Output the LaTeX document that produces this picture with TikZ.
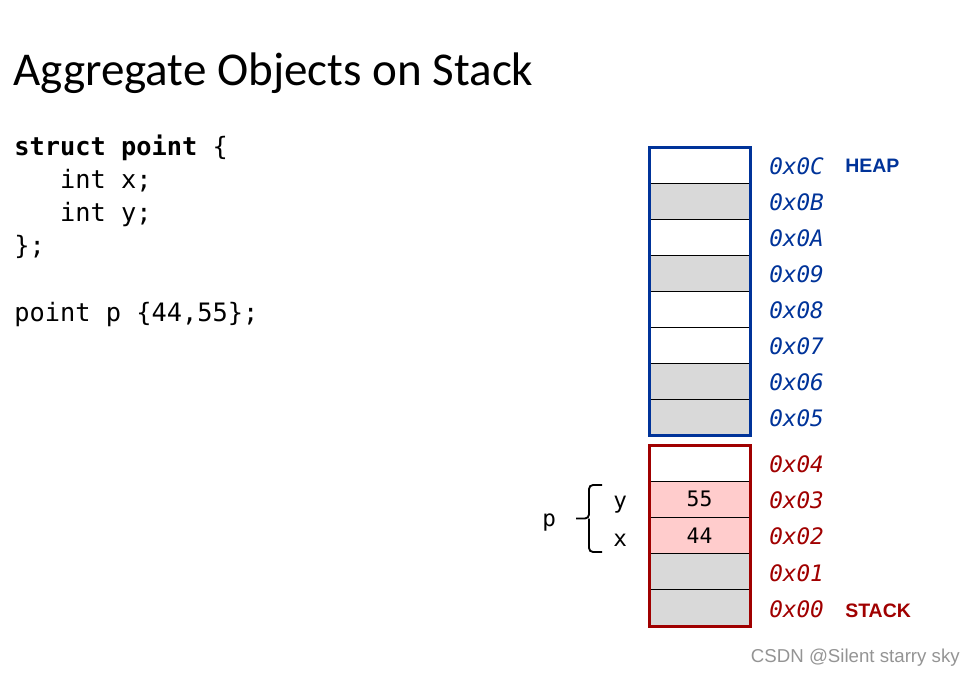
\documentclass[tikz,border=0pt]{standalone}
\usepackage{fontspec}
\setmainfont{Carlito}
\newfontfamily\codefont{DejaVu Sans Mono}
\newfontfamily\wmfont{Liberation Sans}
\definecolor{heapblue}{HTML}{003399}
\definecolor{stackred}{HTML}{A00000}
\definecolor{cellgray}{HTML}{D9D9D9}
\definecolor{cellpink}{HTML}{FFCCCC}
\tikzset{
  cell/.style={draw=black, line width=0.9pt, minimum width=75.75pt, minimum height=27.15pt,
    inner sep=0pt, outer sep=0pt, font=\codefont\fontsize{16}{19}\selectfont},
  wcell/.style={cell, fill=white},
  gcell/.style={cell, fill=cellgray},
  pcell/.style={cell, fill=cellpink},
  heapborder/.style={draw=heapblue, line width=2.25pt},
  stackborder/.style={draw=stackred, line width=2.25pt},
  codetext/.style={anchor=base west, inner sep=0pt, font=\codefont\fontsize{19}{23}\selectfont},
  addr/.style={anchor=base west, inner sep=0pt, font=\codefont\itshape\fontsize{17}{20}\selectfont},
  haddr/.style={addr, text=heapblue},
  saddr/.style={addr, text=stackred},
  region/.style={anchor=base west, inner sep=0pt, font=\wmfont\bfseries\fontsize{14.6}{17}\selectfont},
  lbl/.style={anchor=base west, inner sep=0pt, font=\codefont\fontsize{17}{20}\selectfont},
  bracestyle/.style={line width=1.4pt, rounded corners=3pt},
}
\begin{document}
\begin{tikzpicture}[x=0.75pt,y=-0.75pt]
\useasboundingbox (0,0) rectangle (975,675);
% title
\node[anchor=base west, inner sep=0pt, font=\fontsize{35.3}{42}\selectfont] (title) at (13,85) {Aggregate Objects on Stack};
% code
\node[codetext] (c1) at (14,155) {\textbf{struct point} \{};
\node[codetext] (c2) at (14,188) {\ \ \ int x;};
\node[codetext] (c3) at (14,221) {\ \ \ int y;};
\node[codetext] (c4) at (14,254) {\};};
\node[codetext] (c5) at (14,321) {point p \{44,55\};};
% heap cells
\node[wcell] (h0C) at (699.5,165.1) {};
\node[gcell] (h0B) at (699.5,201.2) {};
\node[wcell] (h0A) at (699.5,237.3) {};
\node[gcell] (h09) at (699.5,273.4) {};
\node[wcell] (h08) at (699.5,309.5) {};
\node[wcell] (h07) at (699.5,345.6) {};
\node[gcell] (h06) at (699.5,381.7) {};
\node[gcell] (h05) at (699.5,417.8) {};
\draw[heapborder] (h0C.north west) rectangle (h05.south east);
% stack cells
\node[wcell] (s04) at (699.5,463.1) {};
\node[pcell] (s03) at (699.5,499.3) {55};
\node[pcell] (s02) at (699.5,535.5) {44};
\node[gcell] (s01) at (699.5,571.7) {};
\node[gcell] (s00) at (699.5,607.9) {};
\draw[stackborder] (s04.north west) rectangle (s00.south east);
% addresses
\node[haddr] (a0C) at (769,174) {0x0C};
\node[haddr] (a0B) at (769,210) {0x0B};
\node[haddr] (a0A) at (769,246) {0x0A};
\node[haddr] (a09) at (769,282) {0x09};
\node[haddr] (a08) at (769,318) {0x08};
\node[haddr] (a07) at (769,354) {0x07};
\node[haddr] (a06) at (769,390) {0x06};
\node[haddr] (a05) at (769,426.5) {0x05};
\node[saddr] (a04) at (769,472) {0x04};
\node[saddr] (a03) at (769,508) {0x03};
\node[saddr] (a02) at (769,544.5) {0x02};
\node[saddr] (a01) at (769,581) {0x01};
\node[saddr] (a00) at (769,617) {0x00};
\node[region, text=heapblue] (heap) at (845,172.5) {HEAP};
\node[region, text=stackred] (stack) at (845,617.5) {STACK};
% brace and labels
\node[lbl] (ly) at (613,508) {y};
\node[lbl] (lx) at (613,546) {x};
\node[lbl] (lp) at (542,526) {p};
\coordinate (bt) at (602,485);
\coordinate (bb) at (602,552);
\coordinate (bm) at (576,518.5);
\draw[bracestyle] (bt) -- (589,485) -- (589,518.5) -- (bm);
\draw[bracestyle] (bb) -- (589,552) -- (589,518.5);
% watermark
\node[anchor=base east, inner sep=0pt, text=black!42, font=\wmfont\fontsize{14}{16}\selectfont] (wm) at (960,662) {CSDN @Silent starry sky};
\end{tikzpicture}
\end{document}
